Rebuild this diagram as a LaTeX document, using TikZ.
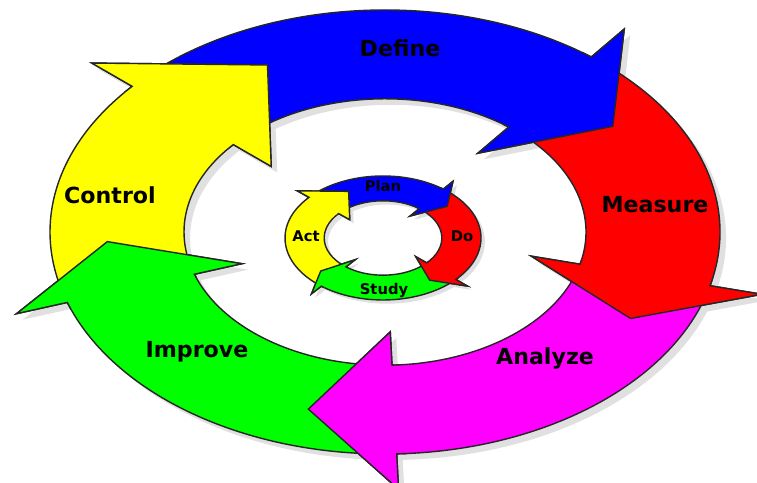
\documentclass[tikz,border=0pt]{standalone}
\usepackage{fontspec}
\setmainfont{DejaVu Sans}

\definecolor{defineblue}{RGB}{0,0,255}
\definecolor{measurered}{RGB}{255,0,0}
\definecolor{analyzemagenta}{RGB}{255,0,255}
\definecolor{improvegreen}{RGB}{0,255,0}
\definecolor{controlyellow}{RGB}{255,255,0}

\tikzstyle{ring line}=[draw=black!85, line width=0.4pt, line join=miter]
\tikzstyle{big label}=[font=\fontsize{6.3}{7}\selectfont\bfseries, text=black, inner sep=0pt]
\tikzstyle{small label}=[font=\fontsize{4.2}{5}\selectfont\bfseries, text=black, inner sep=0pt]

% one curved arrow of a cycle, going clockwise from \tail to \tip
\def\ringpath{(\tail:1) arc[start angle=\tail, end angle=\base, radius=1]
  -- (\base:1.16) -- (\tip:0.83) -- (\base:0.45) -- (\base:0.6)
  arc[start angle=\base, end angle=\tail, radius=0.6] -- cycle}

\newcommand{\cyclearrows}[3]{%
  \begin{scope}[#1]
    % shadow
    \foreach \tail/\base/\tip/\col in {#3}
      \fill[black!12, shift={#2}] \ringpath;
    % bodies
    \foreach \tail/\base/\tip/\col in {#3}
      \path[ring line, fill=\col] \ringpath;
    % heads again, on top of the next tail
    \foreach \tail/\base/\tip/\col in {#3}{
      \begin{scope}
        \clip (0,0) -- (\base+2:1.6) arc[start angle=\base+2, end angle=\tip-6, radius=1.6] -- cycle;
        \path[ring line, fill=\col] \ringpath;
      \end{scope}}
  \end{scope}}

\begin{document}
\begin{tikzpicture}
  \useasboundingbox (0,0) rectangle (7.57,4.83);
  % outer cycle
  \cyclearrows{shift={(3.85,2.51)}, xscale=3.35, yscale=2.22}{(0.018,-0.027)}
    {131/52/35/defineblue, 47/-14/-28/measurered, -18/-88/-106/analyzemagenta,
     -93/-161.5/-177/improvegreen, -166.5/-221/-245/controlyellow}
  % inner cycle
  \cyclearrows{shift={(3.83,2.45)}, xscale=0.98, yscale=0.62}{(0.04,-0.06)}
    {132/52/38/defineblue, 48/-42/-55/measurered, -46/-129/-140/improvegreen,
     -132/-221/-245/controlyellow}

  \node[big label] (define) at (4.00,4.35) {Define};
  \node[big label] (measure) at (6.55,2.78) {Measure};
  \node[big label] (analyze) at (5.45,1.25) {Analyze};
  \node[big label] (improve) at (1.97,1.31) {Improve};
  \node[big label] (control) at (1.10,2.88) {Control};

  \node[small label] (plan) at (3.83,2.97) {Plan};
  \node[small label] (do) at (4.62,2.47) {Do};
  \node[small label] (study) at (3.84,1.93) {Study};
  \node[small label] (act) at (3.06,2.47) {Act};
\end{tikzpicture}
\end{document}
